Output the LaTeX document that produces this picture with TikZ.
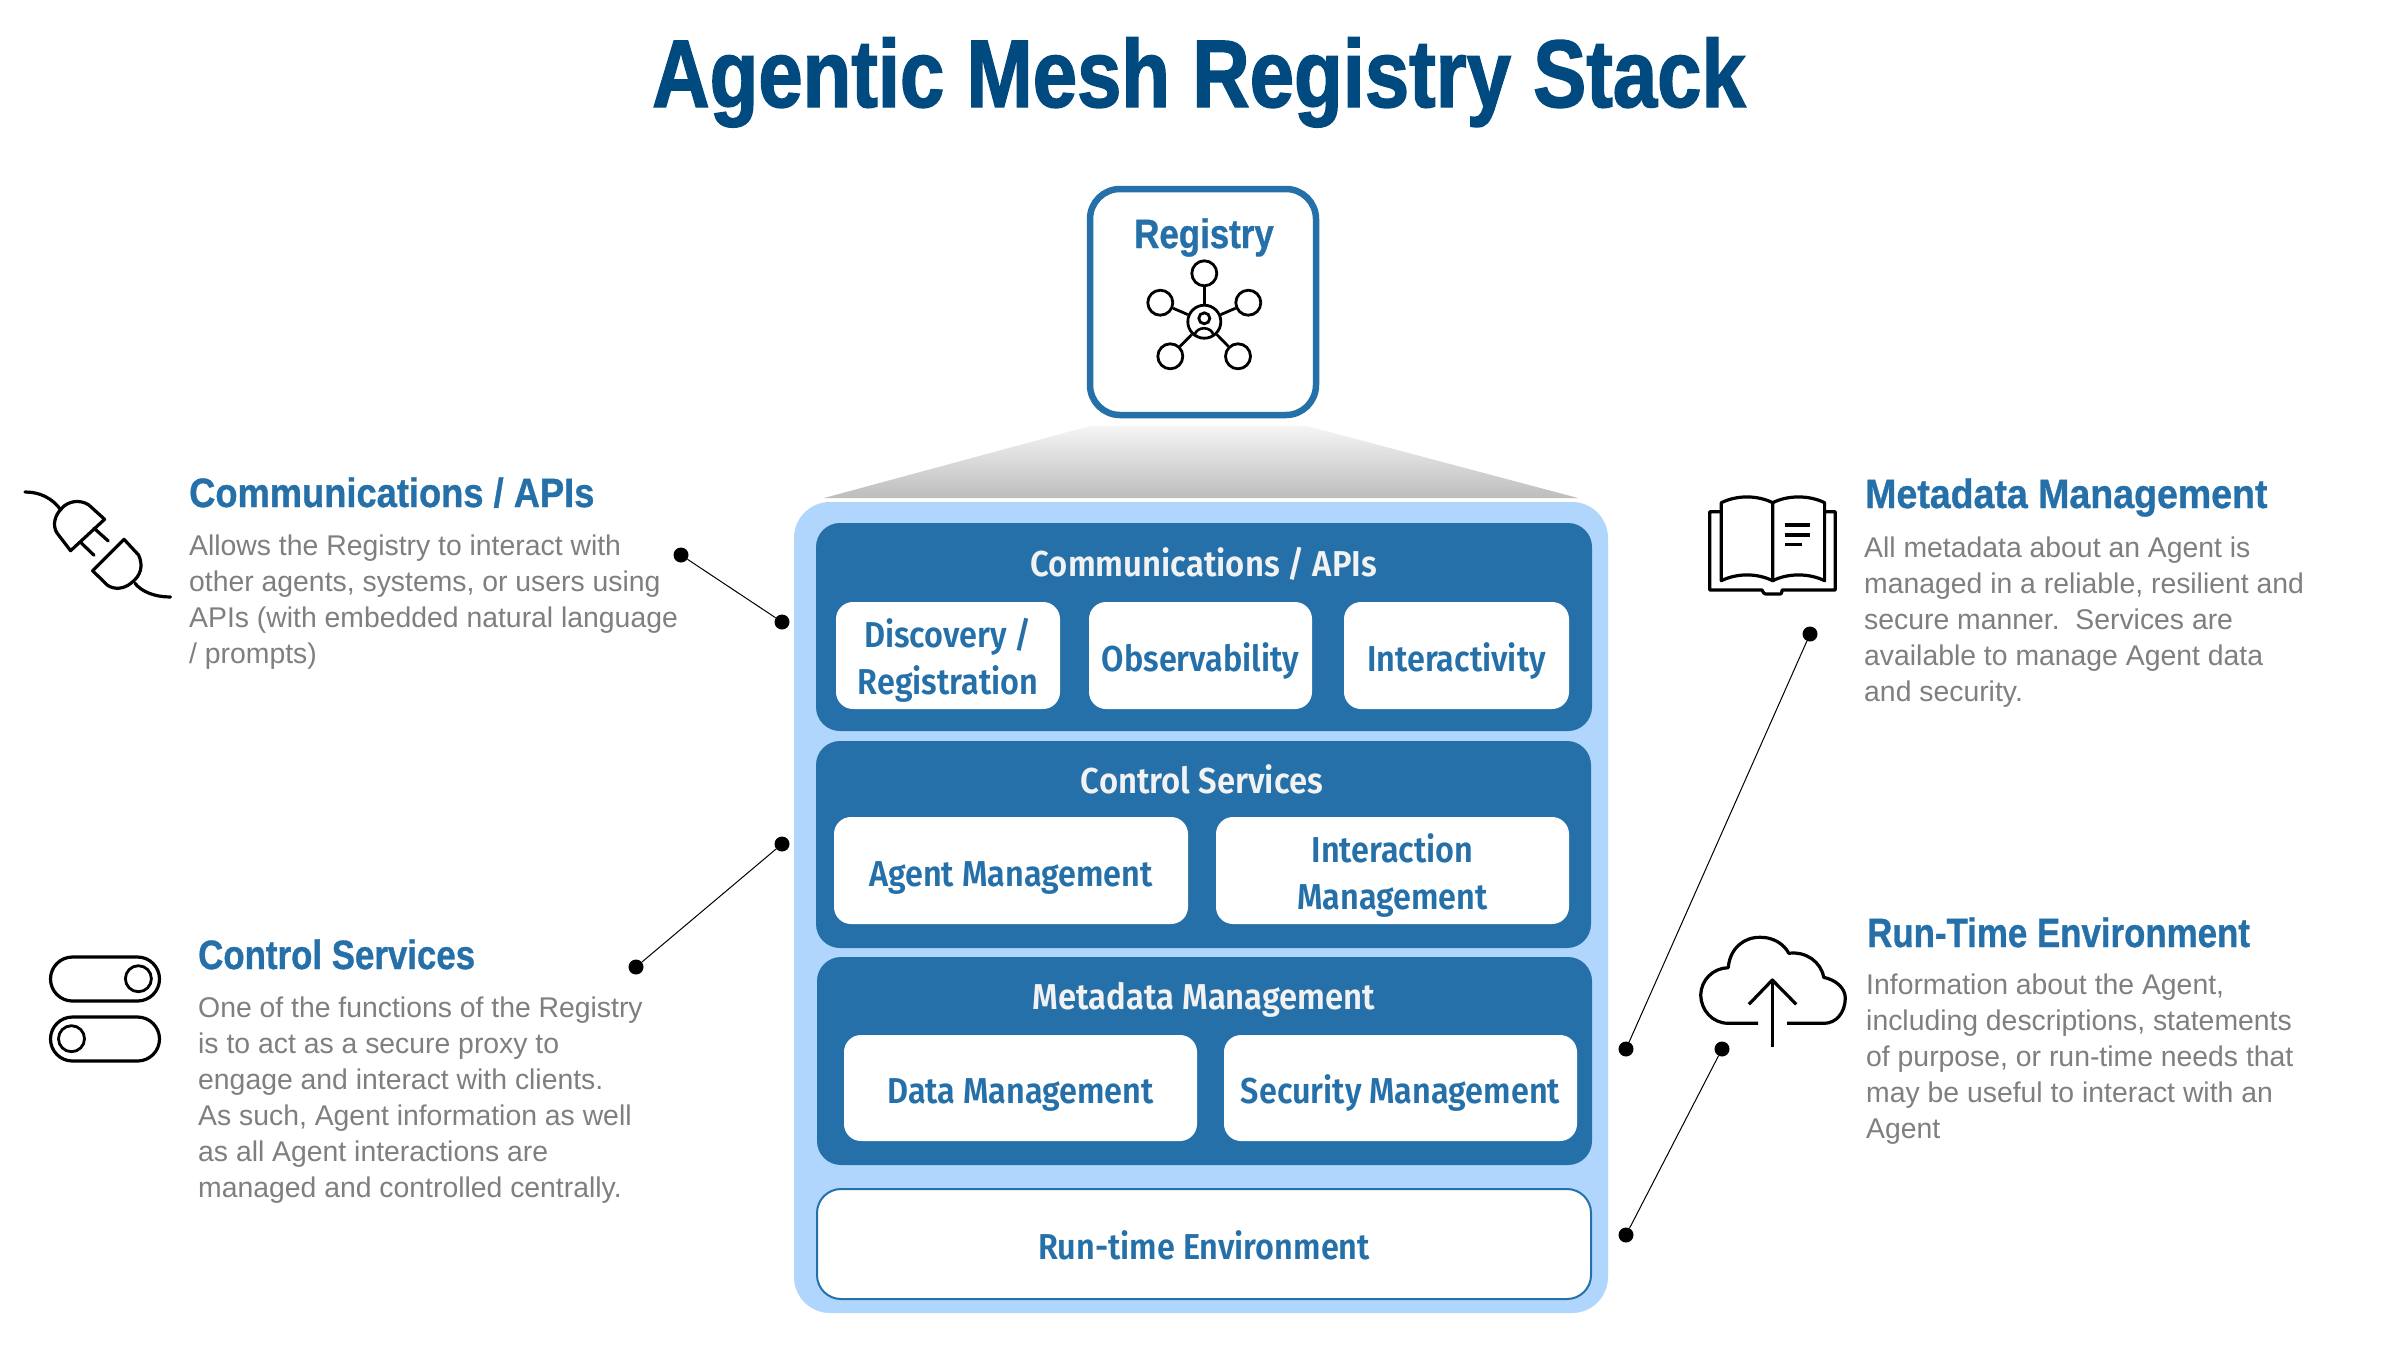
\documentclass[tikz,border=0pt]{standalone}
\usepackage{fontspec}
\setmainfont{Liberation Sans}
\newfontfamily\titlef{Liberation Sans Bold}[FakeStretch=0.83,FakeBold=1.5]
\newfontfamily\headf{Liberation Sans Bold}[FakeStretch=0.85,FakeBold=0.8]
\newfontfamily\headmf{Liberation Sans Bold}[FakeStretch=0.885,FakeBold=0.8]
\newfontfamily\headwf{Liberation Sans Bold}[FakeStretch=0.915,FakeBold=0.8]
\newfontfamily\bandf{Fira Sans SemiBold}[FakeStretch=0.90]
\newfontfamily\bandtf{Fira Sans SemiBold}[FakeStretch=0.912]
\newfontfamily\bodyf{Liberation Sans}[FakeStretch=0.995]
\definecolor{navy}{HTML}{004A80}
\definecolor{mid}{HTML}{2570A9}
\definecolor{pale}{HTML}{B0D6FD}
\definecolor{greytext}{HTML}{7F7F7F}
\tikzset{
  panelbox/.style={fill=pale,rounded corners=36pt,inner sep=0pt},
  bandbox/.style={fill=mid,rounded corners=24pt,inner sep=0pt},
  subbox/.style={fill=white,rounded corners=17pt,inner sep=0pt,text=mid,align=center,
     font=\bandf\fontsize{36}{47}\selectfont,text height=45pt,text depth=14pt},
  twoline/.style={text height=92pt},
  runbox/.style={subbox,draw=mid,line width=2pt,rounded corners=24pt},
  bandtitle/.style={anchor=base,inner sep=0pt,text=white!95!black,font=\bandtf\fontsize{36}{40}\selectfont},
  sectionhead/.style={anchor=base west,inner sep=0pt,text=mid,font=\headf\fontsize{41}{46}\selectfont},
  bodytext/.style={anchor=north west,inner sep=0pt,align=left,text=greytext,font=\bodyf\fontsize{28.5}{36}\selectfont},
  dotnode/.style={circle,fill=black,inner sep=0pt,minimum size=15pt},
  leader/.style={draw=black,line width=1pt},
  iconline/.style={draw=black,line width=3.2pt,line join=round,line cap=round},
  ring/.style={circle,draw=black,line width=2.8pt,fill=white,inner sep=0pt},
}
\newcommand{\firstline}{\rule{0pt}{25pt}}
\begin{document}
\begin{tikzpicture}[x=1pt,y=-1pt]
\useasboundingbox (0,0) rectangle (2400,1350);
\fill[white] (0,0) rectangle (2400,1350);

% title
\node[anchor=base,inner sep=0pt,text=navy,font=\titlef\fontsize{96}{100}\selectfont] (title) at (1199,107) {Agentic Mesh Registry Stack};

% funnel
\coordinate (fa) at (1090,426); \coordinate (fb) at (1307,426);
\coordinate (fc) at (1578,498); \coordinate (fd) at (824,498);
\shade[top color=white!96!black,bottom color=black!26] (fa) -- (fb) -- (fc) -- (fd) -- cycle;

% registry box
\node[draw=mid,line width=6.5pt,rounded corners=30pt,fill=white,minimum width=226pt,minimum height=226pt,inner sep=0pt] (registry) at (1203,302) {};
\node[sectionhead,anchor=base] (registrylabel) at (1204,248) {Registry};
\node[ring,minimum size=33pt] (hub) at (1204.3,321.7) {};
\node[ring,minimum size=25pt] (n1) at (1204.3,273.3) {};
\node[ring,minimum size=25pt] (n2) at (1160.3,302.7) {};
\node[ring,minimum size=25pt] (n3) at (1248.3,302.7) {};
\node[ring,minimum size=25pt] (n4) at (1170.3,356.3) {};
\node[ring,minimum size=25pt] (n5) at (1238,356.3) {};
\foreach \n in {n1,n2,n3,n4,n5} \draw[draw=black,line width=2.8pt] (hub) -- (\n);
\node[ring,minimum size=11pt] (head) at (1204.3,318.3) {};
\draw[draw=black,line width=2.6pt] (1194.5,335) .. controls (1197,326) and (1211,326) .. (1213.5,335);

% stack panel
\node[panelbox,minimum width=814pt,minimum height=811pt] (panel) at (1201,907.5) {};

\node[bandbox,minimum width=776pt,minimum height=208pt] (commband) at (1204,627) {};
\node[bandtitle] (commtitle) at (1204,576) {Communications / APIs};
\node[subbox,twoline,minimum width=224pt,minimum height=107pt] (discovery) at (948,655.5) {Discovery /\\Registration};
\node[subbox,minimum width=223pt,minimum height=107pt] (observability) at (1200.5,655.5) {Observability};
\node[subbox,minimum width=225pt,minimum height=107pt] (interactivity) at (1456.5,655.5) {Interactivity};

\node[bandbox,minimum width=775pt,minimum height=207pt] (controlband) at (1203.5,844.5) {};
\node[bandtitle] (controltitle) at (1202,793) {Control Services};
\node[subbox,minimum width=354pt,minimum height=107pt] (agent) at (1011,870.5) {Agent Management};
\node[subbox,twoline,minimum width=353pt,minimum height=107pt] (interaction) at (1392.5,870.5) {Interaction\\Management};

\node[bandbox,minimum width=775pt,minimum height=208pt] (metaband) at (1204.5,1061) {};
\node[bandtitle] (metatitle) at (1204,1009) {Metadata Management};
\node[subbox,minimum width=353pt,minimum height=106pt] (data) at (1020.5,1088) {Data Management};
\node[subbox,minimum width=353pt,minimum height=106pt] (security) at (1400.5,1088) {Security Management};

\node[runbox,minimum width=774pt,minimum height=110pt] (runtime) at (1204,1244) {Run-time Environment};

% leaders
\node[dotnode] (d1a) at (681,555) {};
\node[dotnode] (d1b) at (782,622) {};
\node[dotnode] (d2a) at (636,967) {};
\node[dotnode] (d2b) at (782,844) {};
\node[dotnode] (d3a) at (1810,634) {};
\node[dotnode] (d3b) at (1626,1049) {};
\node[dotnode] (d4a) at (1722,1049) {};
\node[dotnode] (d4b) at (1626,1235) {};
\draw[leader] (d1a) -- (d1b);
\draw[leader] (d2a) -- (d2b);
\draw[leader] (d3a) -- (d3b);
\draw[leader] (d4a) -- (d4b);

% left texts
\node[sectionhead,font=\headmf\fontsize{41}{46}\selectfont] (h1) at (189,507) {Communications / APIs};
\node[bodytext] (b1) at (189,530.5) {\firstline Allows the Registry to interact with\\other agents, systems, or users using\\APIs (with embedded natural language\\/ prompts)};
\node[sectionhead] (h2) at (198,969) {Control Services};
\node[bodytext] (b2) at (198,992) {\firstline One of the functions of the Registry\\is to act as a secure proxy to\\engage and interact with clients.\\As such, Agent information as well\\as all Agent interactions are\\managed and controlled centrally.};
% right texts
\node[sectionhead,font=\headwf\fontsize{41}{46}\selectfont] (h3) at (1865,508) {Metadata Management};
\node[bodytext] (b3) at (1864,532) {\firstline All metadata about an Agent is\\managed in a reliable, resilient and\\secure manner.\ \ Services are\\available to manage Agent data\\and security.};
\node[sectionhead] (h4) at (1867,947) {Run-Time Environment};
\node[bodytext] (b4) at (1866,969) {\firstline Information about the Agent,\\including descriptions, statements\\of purpose, or run-time needs that\\may be useful to interact with an\\Agent};

% plug icon
\draw[iconline] (25,492) .. controls (40,492) and (52,498) .. (61,510);
\draw[iconline] (104.6,519.3) -- (88.9,505) .. controls (80,499) and (68,501) .. (61.7,508.3) .. controls (55,515) and (52,525) .. (57,533) -- (70.6,550.7) -- cycle;
\draw[iconline] (94.1,528.3) -- (108.3,541);
\draw[iconline] (81,542.7) -- (94.1,555.3);
\draw[iconline] (124,539.3) -- (138.6,555) .. controls (143,565) and (142,575) .. (130.8,583.3) .. controls (124,589) and (114,590) .. (107.2,585) -- (92.6,570.7) -- cycle;
\draw[iconline] (134.9,583.3) .. controls (142,592) and (155,597) .. (170.5,597);

% toggle icon
\draw[iconline,rounded corners=22pt] (50.5,957) rectangle (159.5,1001);
\draw[iconline,rounded corners=22pt] (50.5,1017) rectangle (159.5,1061);
\node[ring,minimum size=26pt] (knob1) at (138.4,978.7) {};
\node[ring,minimum size=26pt] (knob2) at (71.5,1038.7) {};

% book icon
\draw[iconline] (1721,511.7) -- (1709.8,511.7) -- (1709.8,590) -- (1762,590) .. controls (1764,595) and (1766,594) .. (1768,594) -- (1778,594) .. controls (1780,594) and (1782,595) .. (1782,590) -- (1835.2,590) -- (1835.2,511.7) -- (1824.6,511.7);
\draw[iconline] (1772.7,502.7) .. controls (1757,495) and (1737,495) .. (1721.3,502.7) -- (1721.3,580.7) .. controls (1737,573) and (1757,573) .. (1772.7,580.7) -- cycle;
\draw[iconline] (1772.7,502.7) .. controls (1788,495) and (1809,495) .. (1824.6,502.7) -- (1824.6,580.7) .. controls (1809,573) and (1788,573) .. (1772.7,580.7);
\draw[iconline,line cap=butt] (1784.7,525) -- (1809.5,525);
\draw[iconline,line cap=butt] (1784.7,535) -- (1809.5,535);
\draw[iconline,line cap=butt] (1784.7,544.7) -- (1801.7,544.7);

% cloud icon
\draw[iconline,line cap=butt] (1758,1023.3) -- (1728,1023.3) .. controls (1712,1023) and (1701,1010) .. (1700.7,995) .. controls (1701,980) and (1713,968) .. (1728.2,967.7) .. controls (1730,948) and (1744,937) .. (1760.3,937.3) .. controls (1773,937) and (1784,944) .. (1788.8,953.3) .. controls (1806,951) and (1821,962) .. (1823.7,977.3) .. controls (1836,980) and (1845.3,988) .. (1845.3,998.3) .. controls (1845,1013) and (1836,1023) .. (1824.6,1023.3) -- (1787,1023.3);
\draw[iconline,line cap=butt] (1772.3,980) -- (1772.3,1046.7);
\draw[iconline,line cap=butt] (1748.9,1004.3) -- (1772.3,980) -- (1796.2,1004.3);
\end{tikzpicture}
\end{document}
